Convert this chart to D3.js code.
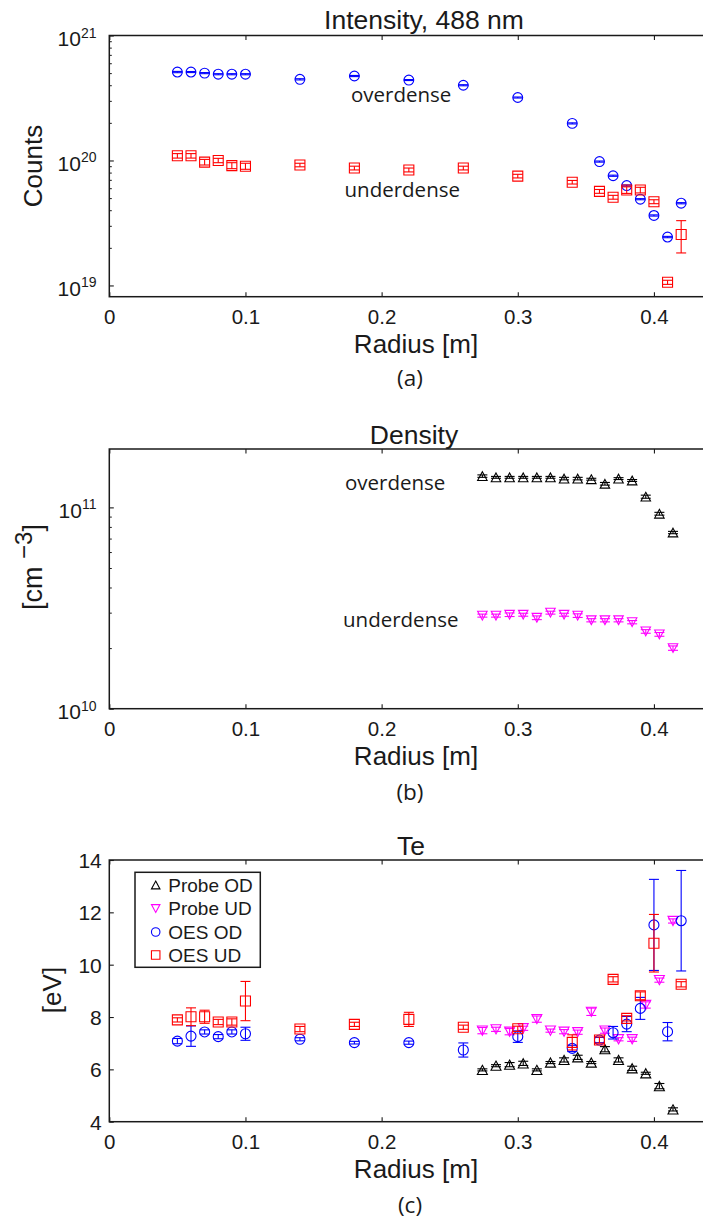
<!DOCTYPE html>
<html>
<head>
<meta charset="utf-8">
<script src="https://cdn.jsdelivr.net/npm/d3@7"></script>
<style>
  html, body { margin: 0; padding: 0; background: #fff; }
  svg { display: block; }
</style>
</head>
<body>
<script>
// ---- data ---------------------------------------------------------------
// radial positions of the optical emission (OES) measurements [m]
const radiusOES = [0.05, 0.06, 0.07, 0.08, 0.09, 0.10, 0.14, 0.18, 0.22, 0.26,
                   0.30, 0.34, 0.36, 0.37, 0.38, 0.39, 0.40, 0.41, 0.42];
// radial positions of the Langmuir probe measurements [m]
const radiusProbe = [0.274, 0.284, 0.294, 0.304, 0.314, 0.324, 0.334, 0.344,
                     0.354, 0.364, 0.374, 0.384, 0.394, 0.404, 0.414];

// (a) 488 nm line intensity, counts
const intensityOD    = [5.1e20, 5.1e20, 5.0e20, 4.9e20, 4.9e20, 4.9e20, 4.46e20, 4.74e20, 4.4e20, 4.0e20,
                        3.19e20, 1.98e20, 9.8e19, 7.55e19, 6.3e19, 4.9e19, 3.63e19, 2.44e19, 4.55e19];
const intensityODErr = [0.06e20, 0.05e20, 0.05e20, 0.05e20, 0.05e20, 0.05e20, 0.05e20, 0.05e20, 0.04e20, 0.04e20,
                        0.03e20, 0.02e20, 0.1e19, 0.08e19, 0.07e19, 0.05e19, 0.04e19, 0.03e19, 0.05e19];
const intensityUD    = [1.09e20, 1.09e20, 9.7e19, 1.0e20, 9.1e19, 9.0e19, 9.2e19, 8.7e19, 8.4e19, 8.7e19,
                        7.5e19, 6.7e19, 5.66e19, 5.08e19, 5.8e19, 5.8e19, 4.68e19, 1.06e19, 2.56e19];
const intensityUDErr = [0.045e20, 0.045e20, 0.05e20, 0.04e20, 0.05e20, 0.05e20, 0.03e20, 0.03e20, 0.03e20, 0.03e20,
                        0.025e20, 0.22e19, 0.2e19, 0.18e19, 0.35e19, 0.3e19, 0.17e19, 0.04e19, 0.74e19];

// (b) probe density, cm^-3
const densityOD    = [1.43e11, 1.41e11, 1.41e11, 1.41e11, 1.41e11, 1.41e11, 1.39e11, 1.39e11,
                      1.38e11, 1.31e11, 1.39e11, 1.36e11, 1.13e11, 0.93e11, 0.75e11];
const densityODErr = [0.02e11, 0.015e11, 0.015e11, 0.015e11, 0.015e11, 0.015e11, 0.02e11, 0.02e11,
                      0.015e11, 0.02e11, 0.015e11, 0.015e11, 0.02e11, 0.015e11, 0.01e11];
const densityUD    = [2.90e10, 2.90e10, 2.93e10, 2.93e10, 2.83e10, 3.0e10, 2.93e10, 2.90e10,
                      2.75e10, 2.75e10, 2.75e10, 2.69e10, 2.42e10, 2.34e10, 2.0e10];
const densityUDErr = [0.05e10, 0.05e10, 0.06e10, 0.05e10, 0.06e10, 0.05e10, 0.05e10, 0.06e10,
                      0.05e10, 0.05e10, 0.05e10, 0.05e10, 0.05e10, 0.05e10, 0.05e10];

// (c) electron temperature, eV
const teProbeOD    = [5.98, 6.14, 6.18, 6.23, 5.98, 6.26, 6.36, 6.46, 6.26, 6.77, 6.36, 6.04, 5.85, 5.36, 4.47];
const teProbeODErr = [0.04, 0.04, 0.08, 0.08, 0.04, 0.04, 0.08, 0.08, 0.04, 0.1, 0.08, 0.08, 0.04, 0.1, 0.06];
const teProbeUD    = [7.48, 7.53, 7.44, 7.57, 7.92, 7.48, 7.44, 7.42, 8.20, 7.48, 7.15, 7.15, 8.46, 9.41, 11.67];
const teProbeUDErr = [0.12, 0.08, 0.12, 0.08, 0.12, 0.06, 0.08, 0.08, 0.14, 0.1, 0.06, 0.08, 0.12, 0.08, 0.08];
const teOESOD      = [7.08, 7.27, 7.43, 7.25, 7.43, 7.36, 7.15, 7.02, 7.02, 6.74,
                      7.25, 6.80, 7.12, 7.40, 7.73, 8.33, 11.52, 7.44, 11.68];
const teOESODErr   = [0.1, 0.39, 0.08, 0.08, 0.08, 0.25, 0.06, 0.05, 0.06, 0.27,
                      0.22, 0.12, 0.1, 0.24, 0.29, 0.42, 1.74, 0.35, 1.92];
const teOESUD      = [7.89, 8.01, 8.01, 7.81, 7.81, 8.61, 7.54, 7.72, 7.91, 7.61,
                      7.55, 7.03, 7.12, 9.44, 7.95, 8.81, 10.82, null, 9.25];
const teOESUDErr   = [0.08, 0.34, 0.25, 0.1, 0.12, 0.75, 0.1, 0.08, 0.27, 0.08,
                      0.1, 0.29, 0.12, 0.1, 0.1, 0.15, 1.1, null, 0.1];

// axis ticks
const xTicks = [0, 0.1, 0.2, 0.3, 0.4];
const intensityDecades = [19, 20, 21];
const densityDecades = [10, 11];
const teTicks = [4, 6, 8, 10, 12, 14];
const legendLabels = ["Probe OD", "Probe UD", "OES OD", "OES UD"];

// ---- drawing ------------------------------------------------------------
const W = 703, H = 1222;
const SANS = '"Liberation Sans", Arial, Helvetica, sans-serif';
const HUMAN = '"Open Sans", "Noto Sans", sans-serif';
const INK = "#1a1a1a";
const BLUE = "#0000ff", RED = "#ff0000", MAGENTA = "#ff00ff", BLACK = "#000000";

const svg = d3.select("body").append("svg")
  .attr("width", W).attr("height", H)
  .attr("viewBox", `0 0 ${W} ${H}`);

const X0 = 109.3, X1 = 708.4;   // plot box spans radius 0 .. 0.44

function markerPath(kind, s) {
  const h = s / 2;
  if (kind === "square") return `M${-h},${-h}H${h}V${h}H${-h}Z`;
  if (kind === "up") return `M0,${-h * 0.92}L${h},${h * 0.92}L${-h},${h * 0.92}Z`;
  if (kind === "down") return `M0,${h * 0.92}L${h},${-h * 0.92}L${-h},${-h * 0.92}Z`;
  return null;
}

function drawMarker(g, kind, cx, cy, color, size) {
  if (kind === "circle") {
    g.append("circle").attr("cx", cx).attr("cy", cy).attr("r", size / 2)
      .attr("fill", "none").attr("stroke", color).attr("stroke-width", 1.1);
  } else {
    g.append("path").attr("d", markerPath(kind, size))
      .attr("transform", `translate(${cx},${cy})`)
      .attr("fill", "none").attr("stroke", color).attr("stroke-width", 1.1)
      .attr("stroke-linejoin", "miter");
  }
}

// error bars + markers for one series
function drawSeries(g, x, y, xs, vals, errs, kind, color, size) {
  const cap = 5;
  xs.forEach((r, i) => {
    const v = vals[i];
    if (v === null || v === undefined) return;
    const e = errs ? errs[i] : 0;
    const cx = x(r), cy = y(v);
    if (e) {
      const y1 = y(v + e), y2 = y(v - e);
      const eg = g.append("g").attr("stroke", color).attr("stroke-width", 1.1).attr("fill", "none");
      eg.append("line").attr("x1", cx).attr("x2", cx).attr("y1", y1).attr("y2", y2);
      eg.append("line").attr("x1", cx - cap).attr("x2", cx + cap).attr("y1", y1).attr("y2", y1);
      eg.append("line").attr("x1", cx - cap).attr("x2", cx + cap).attr("y1", y2).attr("y2", y2);
    }
    drawMarker(g, kind, cx, cy, color, size);
  });
}

// plot frame with inward ticks, x tick labels, titles
function drawFrame(p) {
  const g = svg.append("g");
  const { x, y, top, bottom } = p;

  // x axis (bottom) and mirrored ticks (top), ticks pointing inward
  const axB = d3.axisBottom(x).tickValues(xTicks).tickSizeInner(-4.5).tickSizeOuter(0)
    .tickPadding(0).tickFormat(d3.format("~g"));
  const gb = g.append("g").attr("transform", `translate(0,${bottom})`).call(axB);
  gb.select(".domain").remove();
  gb.selectAll(".tick line").attr("stroke", INK).attr("stroke-width", 1.1);
  gb.selectAll(".tick text").attr("fill", INK).attr("font-family", SANS)
    .attr("font-size", 20.5).attr("dy", null).attr("y", 27.6);

  const axT = d3.axisTop(x).tickValues(xTicks).tickSizeInner(-4.5).tickSizeOuter(0).tickFormat("");
  const gt = g.append("g").attr("transform", `translate(0,${top})`).call(axT);
  gt.select(".domain").remove();
  gt.selectAll(".tick line").attr("stroke", INK).attr("stroke-width", 1.1);

  // box
  g.append("rect").attr("x", X0).attr("y", top).attr("width", X1 - X0).attr("height", bottom - top)
    .attr("fill", "none").attr("stroke", INK).attr("stroke-width", 1.5);

  // x label
  g.append("text").attr("x", 416).attr("y", p.xLabelY).attr("text-anchor", "middle")
    .attr("font-family", SANS).attr("font-size", 26).attr("fill", INK).text("Radius [m]");
  // title
  g.append("text").attr("x", p.titleX).attr("y", p.titleY).attr("text-anchor", "middle")
    .attr("font-family", SANS).attr("font-size", 26.5).attr("fill", INK).text(p.title);
  // caption
  g.append("text").attr("x", 410).attr("y", p.captionY).attr("text-anchor", "middle")
    .attr("font-family", HUMAN).attr("font-size", 22.5).attr("fill", INK).text(p.caption);
  return g;
}

// log y axis: decade labels as 10^n with minor ticks at 2..9
function drawLogY(g, y, decades) {
  const [lo, hi] = y.domain();
  const minor = [];
  for (let d = decades[0]; d <= decades[decades.length - 1]; d++) {
    for (let k = 2; k <= 9; k++) {
      const v = k * Math.pow(10, d);
      if (v > lo && v < hi) minor.push(v);
    }
  }
  const axMinor = d3.axisLeft(y).tickValues(minor).tickSizeInner(-2.5).tickSizeOuter(0).tickFormat("");
  const gm = g.append("g").attr("transform", `translate(${X0},0)`).call(axMinor);
  gm.select(".domain").remove();
  gm.selectAll(".tick line").attr("stroke", INK).attr("stroke-width", 1);

  const majors = decades.map(d => Math.pow(10, d));
  const axMajor = d3.axisLeft(y).tickValues(majors).tickSizeInner(-4.5).tickSizeOuter(0).tickFormat("");
  const gM = g.append("g").attr("transform", `translate(${X0},0)`).call(axMajor);
  gM.select(".domain").remove();
  gM.selectAll(".tick line").attr("stroke", INK).attr("stroke-width", 1.1);

  decades.forEach(d => {
    const t = g.append("text").attr("x", 96.5).attr("y", y(Math.pow(10, d)) + 10.5)
      .attr("text-anchor", "end").attr("font-family", SANS).attr("fill", INK);
    t.append("tspan").attr("font-size", 21).text("10");
    t.append("tspan").attr("font-size", 14).attr("dy", -8.5).text(String(d));
  });
}

// ---- panel (a): intensity ----
{
  const top = 35.5, bottom = 296.7;
  const x = d3.scaleLinear().domain([0, 0.44]).range([X0, X1]);
  const y = d3.scaleLog().domain([Math.pow(10, 18.91), 1e21]).range([bottom, top]);
  const g = drawFrame({ x, y, top, bottom, title: "Intensity, 488 nm", titleX: 424, titleY: 29,
                        xLabelY: 352.5, caption: "(a)", captionY: 386 });
  drawLogY(g, y, intensityDecades);
  g.append("text").attr("transform", "translate(41.5,166) rotate(-90)").attr("text-anchor", "middle")
    .attr("font-family", SANS).attr("font-size", 26).attr("fill", INK).text("Counts");

  drawSeries(g, x, y, radiusOES, intensityOD, intensityODErr, "circle", BLUE, 9.8);
  drawSeries(g, x, y, radiusOES, intensityUD, intensityUDErr, "square", RED, 10);

  g.append("text").attr("x", 351).attr("y", 102).attr("font-family", HUMAN).attr("font-size", 20.5)
    .attr("fill", INK).text("overdense");
  g.append("text").attr("x", 344.5).attr("y", 196.5).attr("font-family", HUMAN).attr("font-size", 20.5)
    .attr("fill", INK).text("underdense");
}

// ---- panel (b): density ----
{
  const top = 449, bottom = 708.7;
  const x = d3.scaleLinear().domain([0, 0.44]).range([X0, X1]);
  const y = d3.scaleLog().domain([1e10, Math.pow(10, 11.29)]).range([bottom, top]);
  const g = drawFrame({ x, y, top, bottom, title: "Density", titleX: 414, titleY: 443.5,
                        xLabelY: 765, caption: "(b)", captionY: 800 });
  drawLogY(g, y, densityDecades);
  const lab = g.append("text").attr("transform", "translate(42,567) rotate(-90)").attr("text-anchor", "middle")
    .attr("font-family", SANS).attr("font-size", 27).attr("fill", INK);
  lab.append("tspan").text("[cm ");
  lab.append("tspan").attr("font-size", 24).attr("dy", -10).text("\u22123");
  lab.append("tspan").attr("dy", 10).text("]");

  drawSeries(g, x, y, radiusProbe, densityOD, densityODErr, "up", BLACK, 9.5);
  drawSeries(g, x, y, radiusProbe, densityUD, densityUDErr, "down", MAGENTA, 9.5);

  g.append("text").attr("x", 345).attr("y", 490).attr("font-family", HUMAN).attr("font-size", 20.5)
    .attr("fill", INK).text("overdense");
  g.append("text").attr("x", 343).attr("y", 626.5).attr("font-family", HUMAN).attr("font-size", 20.5)
    .attr("fill", INK).text("underdense");
}

// ---- panel (c): electron temperature ----
{
  const top = 860, bottom = 1121.7;
  const x = d3.scaleLinear().domain([0, 0.44]).range([X0, X1]);
  const y = d3.scaleLinear().domain([4, 14]).range([bottom, top]);
  const g = drawFrame({ x, y, top, bottom, title: "Te", titleX: 411, titleY: 855,
                        xLabelY: 1178.3, caption: "(c)", captionY: 1212.5 });

  const axY = d3.axisLeft(y).tickValues(teTicks).tickSizeInner(-4.5).tickSizeOuter(0).tickPadding(0);
  const gy = g.append("g").attr("transform", `translate(${X0},0)`).call(axY);
  gy.select(".domain").remove();
  gy.selectAll(".tick line").attr("stroke", INK).attr("stroke-width", 1.1);
  gy.selectAll(".tick text").attr("fill", INK).attr("font-family", SANS).attr("font-size", 21)
    .attr("x", -7.5).attr("dy", "0.36em");

  g.append("text").attr("transform", "translate(61,990) rotate(-90)").attr("text-anchor", "middle")
    .attr("font-family", SANS).attr("font-size", 26).attr("fill", INK).text("[eV]");

  drawSeries(g, x, y, radiusProbe, teProbeOD, teProbeODErr, "up", BLACK, 10);
  drawSeries(g, x, y, radiusProbe, teProbeUD, teProbeUDErr, "down", MAGENTA, 10);
  drawSeries(g, x, y, radiusOES, teOESOD, teOESODErr, "circle", BLUE, 10);
  drawSeries(g, x, y, radiusOES, teOESUD, teOESUDErr, "square", RED, 10);

  // legend
  const lg = g.append("g");
  lg.append("rect").attr("x", 135).attr("y", 872.3).attr("width", 125.3).attr("height", 95)
    .attr("fill", "#fff").attr("stroke", INK).attr("stroke-width", 1.5);
  const kinds = ["up", "down", "circle", "square"];
  const colors = [BLACK, MAGENTA, BLUE, RED];
  const rowY = [885, 908.5, 932, 955];
  legendLabels.forEach((t, i) => {
    drawMarker(lg, kinds[i], 155.7, rowY[i], colors[i], 8.5);
    lg.append("text").attr("x", 168.3).attr("y", rowY[i] + 6.8).attr("font-family", SANS)
      .attr("font-size", 19).attr("fill", INK).text(t);
  });
}
</script>
</body>
</html>
